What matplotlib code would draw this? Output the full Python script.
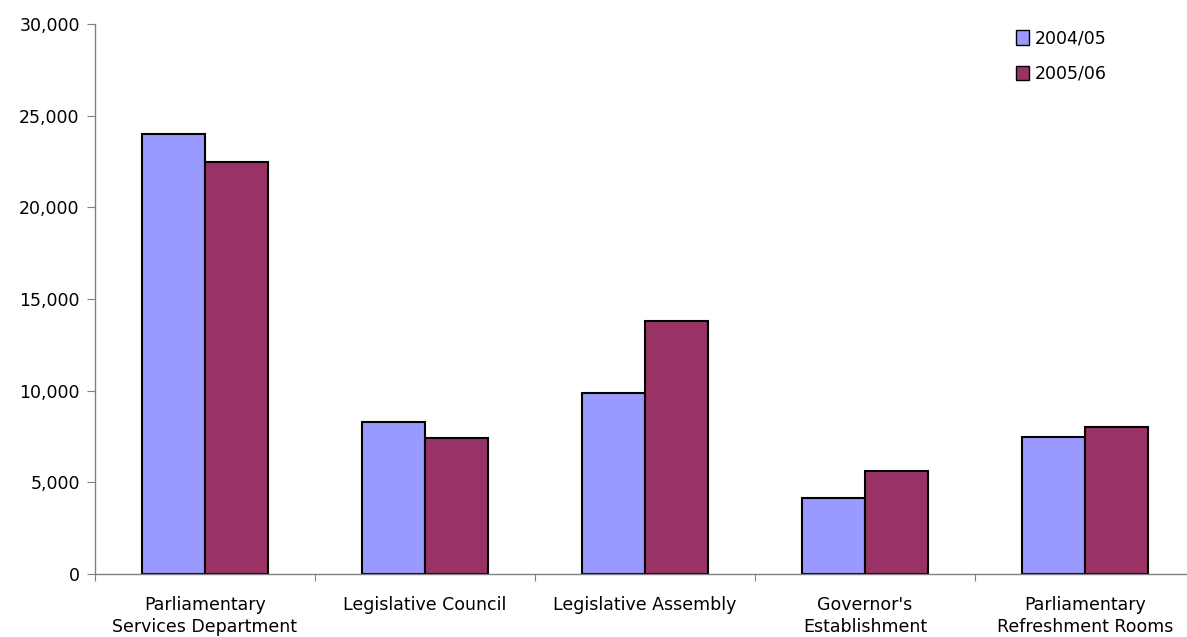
import matplotlib.pyplot as plt
import numpy as np
from matplotlib.ticker import FuncFormatter, FixedLocator

categories = ["Parliamentary\nServices Department", "Legislative Council",
              "Legislative Assembly", "Governor's\nEstablishment",
              "Parliamentary\nRefreshment Rooms"]
series_names = ["2004/05", "2005/06"]
values_0405 = [24000, 8270, 9860, 4130, 7470]
values_0506 = [22450, 7420, 13780, 5640, 8040]

colors = ["#9999FF", "#993366"]

fig = plt.figure(figsize=(11.87, 6.37), dpi=100)
ax = fig.add_axes([95/1187, 63/637, 1100/1187, 550/637])

x = np.arange(len(categories))
w = 0.2864
ax.bar(x - w/2, values_0405, w, color=colors[0], edgecolor="black",
       linewidth=1.5, label=series_names[0])
ax.bar(x + w/2, values_0506, w, color=colors[1], edgecolor="black",
       linewidth=1.5, label=series_names[1])

ax.set_xlim(-0.5, len(categories) - 0.5)
ax.set_ylim(0, 30000)
ax.set_yticks(np.arange(0, 30001, 5000))
ax.yaxis.set_major_formatter(FuncFormatter(lambda v, p: f"{int(v):,}"))

# category separators as major ticks, labels on minor ticks
ax.xaxis.set_major_locator(FixedLocator(np.arange(-0.5, len(categories), 1)))
ax.xaxis.set_major_formatter(FuncFormatter(lambda v, p: ""))
ax.xaxis.set_minor_locator(FixedLocator(x))
ax.set_xticklabels(categories, minor=True, va="top", linespacing=1.3)
ax.tick_params(axis="x", which="minor", length=0, pad=15.5, labelsize=12.5)
ax.tick_params(axis="x", which="major", length=5, width=0.8, color="#808080")
ax.tick_params(axis="y", length=6, width=0.8, color="#808080", labelsize=12.5,
               pad=5)

for s in ["top", "right"]:
    ax.spines[s].set_visible(False)
for s in ["left", "bottom"]:
    ax.spines[s].set_color("#808080")
    ax.spines[s].set_linewidth(1.0)

leg = ax.legend(loc="upper left", bbox_to_anchor=(0.831, 1.0025),
                frameon=False, fontsize=12.5, handlelength=0.75,
                handleheight=0.9, handletextpad=0.35, labelspacing=1.0,
                borderaxespad=0.0)
for h in leg.legend_handles:
    h.set_linewidth(1.0)

fig.savefig("out.png", dpi=100)
